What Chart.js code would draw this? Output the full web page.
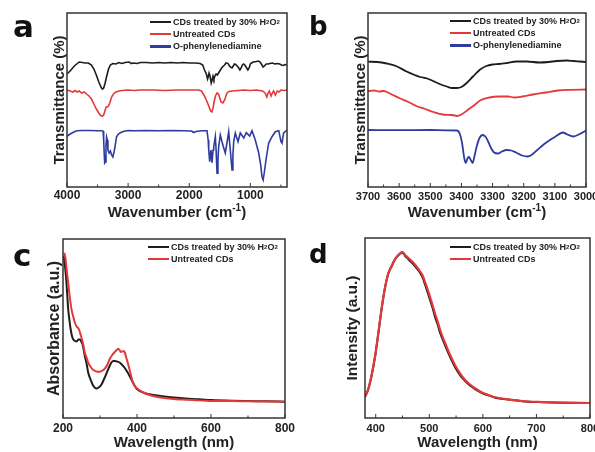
<!DOCTYPE html>
<html><head><meta charset="utf-8">
<script src="https://cdn.jsdelivr.net/npm/chart.js@4.4.1/dist/chart.umd.min.js"></script>
<style>
html,body{margin:0;padding:0;overflow:hidden;background:#fff}
#wrap{position:relative;width:595px;height:452px;overflow:hidden;font-family:"Liberation Sans",Arial,sans-serif;color:#222}
canvas{position:absolute}
.tag{position:absolute;font-family:"DejaVu Sans",sans-serif;font-weight:bold;color:#111;line-height:1}
.xt{position:absolute;width:240px;font-weight:bold;font-size:15px;line-height:18px;text-align:center;white-space:nowrap}
.xt sup{font-size:10px;line-height:0;vertical-align:6px}
.lg{position:absolute;font-weight:bold;font-size:9px;color:#222}
.lg div{display:flex;align-items:center;height:12.4px;white-space:nowrap}
.lg span{display:inline-block;width:21px;height:2.4px;margin-right:2px}
.lg sub{font-size:6px;vertical-align:-2px;line-height:0}
</style></head><body><div id="wrap">
<canvas id="ca" width="298" height="226" style="left:0;top:0"></canvas>
<canvas id="cb" width="307" height="226" style="left:298px;top:0"></canvas>
<canvas id="cc" width="298" height="226" style="left:0;top:226px"></canvas>
<canvas id="cd" width="307" height="226" style="left:298px;top:226px"></canvas>
<div class="tag" style="left:13px;top:11px;font-size:31px">a</div>
<div class="tag" style="left:309px;top:13px;font-size:26px">b</div>
<div class="tag" style="left:13px;top:240px;font-size:31px">c</div>
<div class="tag" style="left:309px;top:241px;font-size:26px">d</div>
<div class="xt" style="left:57px;top:203px">Wavenumber (cm<sup>-1</sup>)</div>
<div class="xt" style="left:357px;top:203px">Wavenumber (cm<sup>-1</sup>)</div>
<div class="lg" id="la" style="left:150px;top:15.5px"></div>
<div class="lg" id="lb" style="left:450px;top:14.5px"></div>
<div class="lg" id="lc" style="left:148px;top:240.5px"></div>
<div class="lg" id="ld" style="left:450px;top:240.5px"></div>
</div>
<script>
// panel a: FTIR 4000-400
const aBlack=[[4000,113],[3950,116],[3880,121],[3800,125],[3750,124.5],[3700,124],[3650,124],[3600,122],[3560,118],[3520,112],[3480,105],[3440,99.5],[3420,98],[3400,99],[3380,103],[3350,111],[3320,118],[3290,122],[3250,123.5],[3200,123],[3150,124.5],[3100,123.5],[3050,124.5],[2980,125],[2950,123.5],[2920,124],[2850,123.5],[2800,124.5],[2700,124.5],[2600,124],[2500,124.5],[2400,124],[2300,124.5],[2200,124],[2100,124.5],[2000,124],[1900,124],[1820,123.5],[1780,122],[1750,117],[1720,113],[1700,108],[1690,110],[1675,114],[1660,111],[1640,104],[1625,107],[1610,111],[1595,108],[1580,111],[1560,113],[1540,112],[1520,114],[1500,116],[1470,119],[1440,121],[1420,122],[1400,124],[1380,124],[1360,123],[1330,120],[1300,119],[1280,121],[1260,123],[1240,122.5],[1200,120],[1170,117],[1150,119],[1130,122],[1110,123],[1090,122],[1060,119],[1040,117],[1020,119],[1000,123],[980,124],[950,125],[900,125.5],[870,126],[840,125],[810,122],[790,120],[770,121],[740,123],[710,123],[680,123.5],[640,124],[600,123],[560,123.5],[520,123],[490,122],[460,121.5],[430,122.5],[400,122]];
const aRed=[[4000,97],[3950,96],[3900,95],[3870,96.5],[3830,95],[3800,96],[3760,94],[3720,95],[3680,93],[3640,91],[3600,88],[3560,83],[3520,78],[3480,74],[3450,71.5],[3420,71],[3400,72],[3380,76],[3360,80],[3340,80],[3320,81],[3300,84],[3270,90],[3240,93],[3200,95],[3150,96],[3100,96.5],[3000,97],[2900,96.5],[2800,97],[2600,97],[2400,96.5],[2200,97],[2000,97],[1850,97],[1800,96],[1760,92],[1720,87],[1680,81],[1650,76],[1630,75],[1610,79],[1590,86],[1570,91],[1545,94],[1520,93],[1500,89],[1480,85],[1450,84],[1420,87],[1400,91],[1380,94],[1350,95.5],[1300,96],[1200,96.5],[1100,97],[1000,96.5],[900,97],[800,96],[760,94],[730,90],[710,94],[690,96],[660,91],[640,94],[620,96],[590,92],[560,96],[530,95],[500,97],[450,96.5],[400,97]];
const aBlue=[[4000,50.7],[3960,52.5],[3918,54],[3870,55.5],[3836,56.3],[3750,56.5],[3624,56.5],[3500,56.3],[3427,56.3],[3410,56],[3400,47],[3390,32],[3383,24],[3372,25],[3362,42],[3352,50],[3340,47],[3330,37],[3310,34],[3290,36],[3270,32],[3250,30],[3230,35],[3210,42],[3190,50],[3160,53],[3120,54.5],[3080,55.5],[3000,56.5],[2900,56.2],[2700,56.5],[2500,56.2],[2300,56.5],[2100,56.3],[1960,56],[1927,54.5],[1890,55.5],[1800,56.3],[1709,56.3],[1690,47],[1681,37],[1665,25.3],[1644,37],[1627,24.3],[1610,37],[1599,40.3],[1573,50.3],[1560,37],[1545,13.7],[1530,27],[1518,40.3],[1491,52],[1464,45.3],[1440,40],[1410,34],[1380,45],[1354,55.3],[1328,37],[1300,17],[1285,32],[1272,45.3],[1246,54],[1202,45.3],[1164,54],[1108,49],[1066,54.3],[1010,51],[973,56.3],[919,47],[863,34],[830,22],[809,10.3],[790,7],[770,15],[744,27],[700,44],[645,50.3],[591,55.3],[535,56.3],[498,45.3],[482,44],[455,54],[400,57]];
// panel b: FTIR 3700-3000
const bBlack=[[3700,125.3],[3670,125],[3640,123.5],[3610,121],[3576,115.5],[3550,112],[3533,110],[3510,108.5],[3491,106],[3470,103],[3447,100.5],[3430,99],[3415,99],[3400,100],[3383,104],[3363,110.5],[3340,117.5],[3320,121],[3300,122.5],[3280,123],[3255,124],[3223,125.5],[3190,125.5],[3150,124.5],[3120,125],[3094,126],[3062,126.5],[3040,126],[3020,125.5],[3000,125]];
const bRed=[[3700,96],[3680,96.5],[3665,95.5],[3650,96],[3630,93.5],[3600,89],[3570,85],[3545,81],[3520,78.5],[3490,75],[3460,72.5],[3430,72],[3415,71],[3400,72.5],[3380,77],[3360,81.5],[3340,86.5],[3310,89.5],[3280,90.5],[3250,90.5],[3230,89.5],[3205,90.5],[3170,92.5],[3130,94.5],[3090,96.5],[3050,97.2],[3000,97.5]];
const bBlue=[[3700,57],[3600,56.8],[3500,57],[3450,56.7],[3415,56.5],[3405,53],[3398,44],[3391,29],[3386,24],[3380,29],[3376,30],[3370,27],[3364,24],[3358,31],[3351,40.5],[3342,49],[3332,52],[3322,50],[3315,46],[3305,39],[3295,34.5],[3283,33.5],[3270,35.5],[3255,37],[3240,36.5],[3225,34.5],[3205,31.5],[3188,30.5],[3175,32],[3160,36],[3132,43.5],[3100,50],[3074,54.5],[3060,52.5],[3040,50.5],[3020,53],[3000,56.5]];
// panel c: UV-vis absorbance
const cBlack=[[202,162],[205,153],[208,142],[211,126],[214,109],[218,96],[221,88],[225,81],[228,78.5],[233,77],[237,76.5],[242,78.5],[246,78.5],[250,76],[253,73.5],[256,68],[259,62],[264,54],[268,45.5],[275,38],[282,32],[291,29.5],[298,31],[304,33.5],[311,39],[318,45],[326,52],[331,55.5],[336,57],[340,57],[346,56.5],[353,55.5],[360,53],[367,50],[374,46],[380,42],[387,37],[394,32],[400,29],[407,27],[420,25],[434,23.7],[455,22.5],[479,21.3],[500,20.5],[524,19.7],[550,19],[569,18.7],[600,18],[658,17.3],[700,17],[748,16.7],[800,16.3]];
const cRed=[[203,165.3],[205,163],[207,158.7],[210,148],[214,135.3],[218,122],[223,108.7],[228,101],[232,95.3],[237,91.5],[243,88.7],[250,80.3],[255,73],[259,65.3],[264,60],[268,55.3],[275,51],[282,48],[291,46.5],[300,46.3],[307,47.5],[313,49.3],[320,53.5],[326,58.7],[333,63],[340,66],[345,68],[349,69.3],[353,68],[356,66],[360,66.5],[364,67],[367,65.5],[371,60.3],[376,54],[382,45.3],[389,35.3],[395,31.5],[403,28.7],[415,26],[434,23],[455,21],[479,19.7],[505,18.8],[533,18.3],[560,17.8],[587,17.3],[620,17],[658,17],[700,16.7],[800,16.3]];
// panel d: PL emission
const dBlack=[[380,21],[386,28.5],[392,41.5],[399,62],[405,85],[411,109],[417,129],[423,143.5],[430,152],[436,158.5],[442,162.5],[446,164.5],[449,165.5],[452,164.5],[455,162],[460,159.5],[464,157],[469,154.5],[474,151.5],[479,148],[483,145],[488,140],[492,133.5],[497,125.5],[502,117],[507,108.5],[511,100.5],[516,93],[520,85.5],[525,78.5],[530,72],[536,64.5],[542,57.5],[548,51],[554,45.5],[560,41],[567,37],[576,32.5],[586,28.7],[595,26],[604,23.7],[614,22],[623,20.3],[640,19],[654,18],[670,17],[685,16.3],[710,15.8],[748,15.3],[800,15]];
const dRed=[[380,21.5],[386,29],[392,42],[399,62.5],[405,85.5],[411,109.5],[417,129.5],[423,144],[430,152.5],[436,159],[442,163],[446,165],[449,166],[452,165],[455,163],[460,160.5],[464,158.5],[469,156],[474,153],[479,149.5],[483,146.5],[488,142],[492,136],[497,128.5],[502,120],[507,111.5],[511,104],[516,96],[520,88.5],[525,81],[530,74.5],[536,66.5],[542,59.5],[548,53],[554,47.5],[560,42.5],[567,38],[576,33.5],[586,29.5],[595,26.5],[604,24.2],[614,22.3],[623,20.7],[640,19.2],[654,18.2],[670,17.2],[685,16.5],[710,16],[748,15.4],[800,15]];

const names=['CDs treated by 30% H<sub>2</sub>O<sub>2</sub>','Untreated CDs','O-phenylenediamine'];
const aMajor=[4000,3000,2000,1000], aMinor=[3500,2500,1500,500];
const bMajor=[3700,3600,3500,3400,3300,3200,3100,3000], bMinor=[3650,3550,3450,3350,3250,3150,3050];
const cMajor=[200,400,600,800], cMinor=[300,500,700];
const dMajor=[400,500,600,700,800], dMinor=[450,550,650,750];

const BLK='#1d1d1d',RED='#e4393a',BLU='#2f3c9e';
const FONT='"Liberation Sans", Arial, sans-serif';

/* frame + inward ticks */
const frame={
id:'frame',
afterDatasetsDraw(c,args,o){
const {ctx,chartArea:a}=c;
const x=c.scales.x;
ctx.save();
ctx.strokeStyle='#333';
ctx.lineWidth=1;
o.major.forEach(v=>{let p=x.getPixelForValue(v);ctx.beginPath();ctx.moveTo(p,a.bottom);ctx.lineTo(p,a.bottom-4);ctx.stroke();});
o.minor.forEach(v=>{let p=x.getPixelForValue(v);ctx.beginPath();ctx.moveTo(p,a.bottom);ctx.lineTo(p,a.bottom-2.5);ctx.stroke();});
ctx.lineWidth=1.5;
ctx.strokeRect(a.left,a.top,a.width,a.height);
ctx.restore();
}
};

function ds(data,color,w,smooth){
return {data:data.map(p=>({x:p[0],y:p[1]})),borderColor:color,borderWidth:w,
pointRadius:0,showLine:true,fill:false,tension:0,
cubicInterpolationMode:smooth?'monotone':'default'};
}

function panel(id,sets,p){
return new Chart(document.getElementById(id),{
type:'scatter',
data:{datasets:sets},
options:{
responsive:false,animation:false,devicePixelRatio:1,
layout:{padding:p.pad},
plugins:{legend:{display:false},tooltip:{enabled:false},frame:{major:p.major,minor:p.minor}},
scales:{
x:{type:'linear',min:p.min,max:p.max,reverse:!!p.rev,
grid:{display:false,drawTicks:false},border:{display:false},
afterBuildTicks:s=>{s.ticks=p.major.map(v=>({value:v}));},
afterFit:s=>{s.height=p.xh;},
ticks:{autoSkip:false,maxRotation:0,padding:p.tp,color:'#222',
font:{family:FONT,weight:'bold',size:p.fs},callback:v=>String(v)},
title:{display:!!p.xt,text:p.xt,color:'#222',padding:{top:0,bottom:0},
font:{family:FONT,weight:'bold',size:15}}
},
y:{min:0,max:p.ymax,
grid:{display:false,drawTicks:false},border:{display:false},
ticks:{display:false},
afterFit:s=>{s.width=p.yw;},
title:{display:true,text:p.yt,color:'#222',padding:{top:0,bottom:0},
font:{family:FONT,weight:'bold',size:p.yfs}}
}
}
},
plugins:[frame]
});
}

panel('ca',[ds(aBlack,BLK,1.6),ds(aRed,RED,1.6),ds(aBlue,BLU,1.6)],
{pad:{left:51,top:13,right:11,bottom:0},min:400,max:4000,rev:true,major:aMajor,minor:aMinor,
xh:39,tp:1,fs:12,ymax:174,yw:16,yt:'Transmittance (%)',yfs:15});

panel('cb',[ds(bBlack,BLK,1.8,1),ds(bRed,RED,1.8,1),ds(bBlue,BLU,1.8,1)],
{pad:{left:54,top:13,right:19,bottom:0},min:3000,max:3700,rev:true,major:bMajor,minor:bMinor,
xh:39,tp:3,fs:11,ymax:174,yw:16,yt:'Transmittance (%)',yfs:15});

panel('cc',[ds(cRed,RED,2,1),ds(cBlack,BLK,2,1)],
{pad:{left:45,top:13,right:12,bottom:0},min:200,max:800,major:cMajor,minor:cMinor,
xh:34,tp:3,fs:12,xt:'Wavelength (nm)',ymax:179,yw:18,yt:'Absorbance (a.u.)',yfs:16});

panel('cd',[ds(dRed,RED,2.2,1),ds(dBlack,BLK,2,1)],
{pad:{left:45,top:12,right:15,bottom:0},min:380,max:800,major:dMajor,minor:dMinor,
xh:34,tp:4,fs:11,xt:'Wavelength (nm)',ymax:180,yw:22,yt:'Intensity (a.u.)',yfs:15.5});

/* LEGENDS */
function legend(id,n,cols){
let h='';
for(let i=0;i<n;i++)h+=`<div><span style="background:${cols[i]}"></span>${names[i]}</div>`;
document.getElementById(id).innerHTML=h;
}
legend('la',3,[BLK,RED,BLU]);
legend('lb',3,[BLK,RED,BLU]);
legend('lc',2,[BLK,RED]);
legend('ld',2,[BLK,RED]);
</script>
</body></html>
